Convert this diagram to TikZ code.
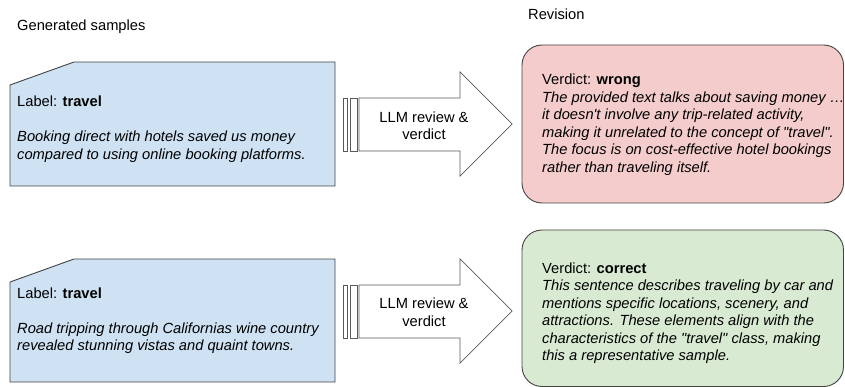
\documentclass[tikz,border=0pt]{standalone}
\usepackage{fontspec}
\setmainfont{Liberation Sans}
\usepackage{xcolor}
\usepackage{tikz}
\usetikzlibrary{positioning}
\definecolor{sampleb}{HTML}{CFE2F3}
\definecolor{wrongr}{HTML}{F4CCCC}
\definecolor{rightg}{HTML}{D9EAD3}
\definecolor{edgec}{HTML}{434343}
\definecolor{arrowc}{HTML}{595959}
% straight quote and apostrophe, past the TeX mapping
\newcommand{\qt}{\XeTeXglyph\XeTeXcharglyph"22\relax}
\newcommand{\ap}{\XeTeXglyph\XeTeXcharglyph"27\relax}

\begin{document}
\begin{tikzpicture}[
  x=1pt, y=-1pt,
  every node/.style={font=\fontsize{14.7}{17.5}\selectfont, inner sep=0pt},
  sample/.style={draw=edgec, fill=sampleb, line width=0.9pt},
  verdictbox/.style={draw=edgec, line width=0.9pt, rounded corners=20pt},
  bar/.style={draw=arrowc, fill=white, line width=0.7pt},
  bigarrow/.style={draw=arrowc, fill=white, line width=0.7pt, line join=miter},
  txt/.style={align=left, anchor=base west},
]
\useasboundingbox (0,0) rectangle (845,387);

% headers
\node[anchor=base west] (hgen) at (17,30.5) {Generated samples};
\node[anchor=base west] (hrev) at (528,20) {Revision};

% first row (text anchored at the baseline of its last line)
\draw[sample] (10,85) -- (74,62) -- (335,62) -- (335,186) -- (10,186) -- cycle;
\node[txt] (s1) at (17,159.5) {Label: \textbf{travel}\\[17.5pt]
  \textit{Booking direct with hotels saved us money}\\
  \textit{compared to using online booking platforms.}};
\draw[bar] (343,98) rectangle (347,151);
\draw[bar] (350,98) rectangle (357,151);
\draw[bigarrow] (359,98) -- (460,98) -- (460,72) -- (512,124)
  -- (460,176) -- (460,151) -- (359,151) -- cycle;
\node[align=center] (a1) at (424,125.5) {LLM review \&\\verdict};
\fill[wrongr, verdictbox] (522,45) rectangle (843.5,203);
\node[txt] (v1) at (542,172.5) {Verdict: \textbf{wrong}\\
  \textit{The provided text talks about saving money …}\\
  \textit{it doesn\ap t involve any trip-related activity,}\\
  \textit{making it unrelated to the concept of \qt travel\qt.}\\
  \textit{The focus is on cost-effective hotel bookings}\\
  \textit{rather than traveling itself.}};

% second row
\draw[sample] (10,282) -- (74,259) -- (335,259) -- (335,382) -- (10,382) -- cycle;
\node[txt] (s2) at (17,350.5) {Label: \textbf{travel}\\[17.5pt]
  \textit{Road tripping through Californias wine country}\\
  \textit{revealed stunning vistas and quaint towns.}};
\draw[bar] (343,285) rectangle (347,338);
\draw[bar] (350,285) rectangle (357,338);
\draw[bigarrow] (359,285) -- (460,285) -- (460,259) -- (512,311)
  -- (460,363) -- (460,338) -- (359,338) -- cycle;
\node[align=center] (a2) at (424,312) {LLM review \&\\verdict};
\fill[rightg, verdictbox] (522,230) rectangle (843.5,386.5);
\node[txt] (v2) at (542,360.5) {Verdict: \textbf{correct}\\
  \textit{This sentence describes traveling by car and}\\
  \textit{mentions specific locations, scenery, and}\\
  \textit{attractions. These elements align with the}\\
  \textit{characteristics of the \qt travel\qt\ class, making}\\
  \textit{this a representative sample.}};
\end{tikzpicture}
\end{document}
